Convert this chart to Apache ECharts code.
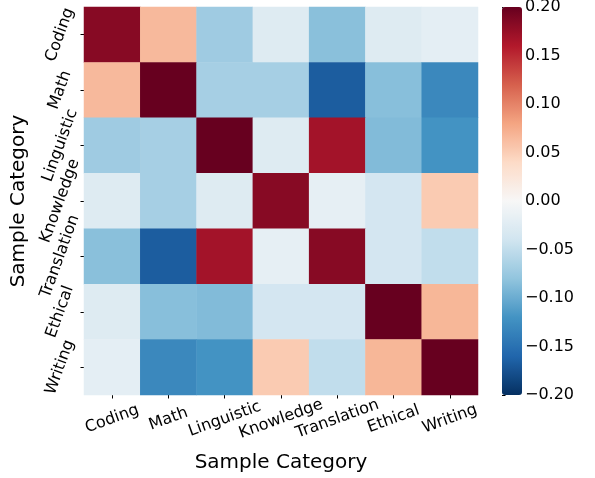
<!DOCTYPE html>
<html><head><meta charset="utf-8">
<script src="https://cdn.jsdelivr.net/npm/echarts@6/dist/echarts.min.js"></script>
<style>html,body{margin:0;padding:0;background:#fff}#c{width:595px;height:478px}</style>
</head><body><div id="c"></div>
<script>
const categories = ['Coding','Math','Linguistic','Knowledge','Translation','Ethical','Writing'];
const rowCoding      = [ 0.183,  0.065, -0.072, -0.026, -0.084, -0.026, -0.020];
const rowMath        = [ 0.065,  0.200, -0.067, -0.067, -0.167, -0.085, -0.130];
const rowLinguistic  = [-0.072, -0.067,  0.200, -0.026,  0.168, -0.088, -0.120];
const rowKnowledge   = [-0.026, -0.067, -0.026,  0.183, -0.018, -0.037,  0.052];
const rowTranslation = [-0.084, -0.167,  0.168, -0.018,  0.183, -0.037, -0.050];
const rowEthical     = [-0.026, -0.085, -0.088, -0.037, -0.037,  0.200,  0.067];
const rowWriting     = [-0.020, -0.130, -0.120,  0.052, -0.050,  0.067,  0.200];
const cbTickLabels = ['−0.20','−0.15','−0.10','−0.05','0.00','0.05','0.10','0.15','0.20'];
const cbMin = -0.2, cbMax = 0.2, cbStep = 0.05;

const rows = [rowCoding,rowMath,rowLinguistic,rowKnowledge,rowTranslation,rowEthical,rowWriting];
const data = [];
rows.forEach((r, yi) => r.forEach((v, xi) => data.push([xi, yi, v])));

const FONT = 'DejaVu Sans';
const chart = echarts.init(document.getElementById('c'), null, {renderer:'canvas'});
chart.setOption({
  animation: false,
  textStyle: {fontFamily: FONT},
  grid: [
    {left: 84, top: 7, width: 394, height: 388, containLabel: false, outerBoundsMode: 'none'},
    {left: 502, top: 7, width: 20, height: 388, containLabel: false, outerBoundsMode: 'none'}
  ],
  xAxis: [{
    type: 'category', data: categories, gridIndex: 0,
    axisLine: {show: false},
    axisTick: {show: true, alignWithLabel: true, length: 3.5, lineStyle: {color: '#000'}},
    axisLabel: {rotate: 20, align: 'center', verticalAlign: 'middle', margin: 24,
      fontSize: 16, color: '#000', fontFamily: FONT, interval: 0},
    splitLine: {show: false},
    name: 'Sample Category', nameLocation: 'middle', nameGap: 58,
    nameTextStyle: {fontSize: 20, color: '#000', fontFamily: FONT}
  }, {
    type: 'value', gridIndex: 1, show: false, min: 0, max: 1
  }],
  yAxis: [{
    type: 'category', data: categories, inverse: true, gridIndex: 0,
    axisLine: {show: false},
    axisTick: {show: true, alignWithLabel: true, length: 3.5, lineStyle: {color: '#000'}},
    axisLabel: {rotate: 70, align: 'center', verticalAlign: 'middle', margin: 24,
      fontSize: 16, color: '#000', fontFamily: FONT, interval: 0},
    splitLine: {show: false},
    name: 'Sample Category', nameLocation: 'middle', nameGap: 50,
    nameTextStyle: {fontSize: 20, color: '#000', fontFamily: FONT}
  }, {
    type: 'value', gridIndex: 1, position: 'right', min: cbMin, max: cbMax, interval: cbStep,
    axisLine: {show: false},
    axisTick: {show: true, length: 3.5, lineStyle: {color: '#000'}},
    axisLabel: {margin: 3, fontSize: 16, color: '#000', fontFamily: FONT,
      formatter: v => cbTickLabels[Math.round((v - cbMin) / cbStep)]},
    splitLine: {show: false}
  }],
  visualMap: {
    type: 'continuous', min: cbMin, max: cbMax, calculable: false,
    orient: 'vertical', left: 502, top: 7, itemWidth: 20, itemHeight: 388,
    padding: 0, text: ['', ''], showLabel: false, hoverLink: false, seriesIndex: 0,
    inRange: {color: ['#053061','#2166ac','#4393c3','#92c5de','#d1e5f0','#f7f7f7','#fddbc7','#f4a582','#d6604d','#b2182b','#67001f']}
  },
  series: [{
    type: 'heatmap', xAxisIndex: 0, yAxisIndex: 0, data: data,
    itemStyle: {borderWidth: 0},
    emphasis: {disabled: true}
  }]
});
</script>
</body></html>
